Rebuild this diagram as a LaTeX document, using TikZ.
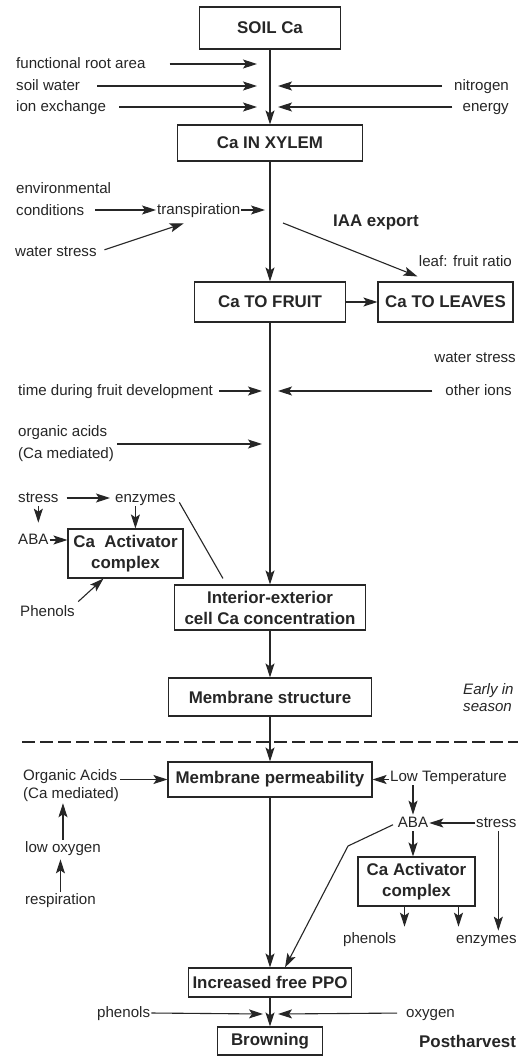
\documentclass[tikz,border=0pt]{standalone}
\usepackage{fontspec}
\setmainfont{Liberation Sans}
\usetikzlibrary{arrows.meta,positioning,calc}

\begin{document}
\begin{tikzpicture}[
    x=1pt, y=-1pt,
    >={Stealth[length=14pt,width=9pt,inset=3pt]},
    block/.style={
        rectangle,
        draw=black!85,
        line width=1.1pt,
        align=center,
        inner sep=0pt,
        text=black!85,
        font=\fontsize{16.9}{21}\selectfont\bfseries
    },
    txt/.style={
        inner sep=1pt,
        text height=11.3pt,
        text depth=3pt,
        text=black!85,
        font=\fontsize{15.1}{18}\selectfont
    },
    txtml/.style={
        inner sep=1pt,
        align=left,
        text=black!85,
        font=\fontsize{15.1}{22}\selectfont
    },
    head/.style={
        txt,
        font=\fontsize{16.9}{21}\selectfont\bfseries
    },
    line/.style={draw=black!85, ->, line width=1.1pt},
    plain/.style={draw=black!85, line width=1.1pt},
    cutline/.style={draw=black!85, line width=1.3pt, dash pattern=on 13pt off 5pt}
]
\path[fill=white, use as bounding box] (0,0) rectangle (518,1057);

% Main blocks
\node[block, minimum width=141pt, minimum height=42pt] (soil) at (270,28) {SOIL Ca};
\node[block, minimum width=185pt, minimum height=36pt] (xylem) at (270,143) {Ca IN XYLEM};
\node[block, minimum width=151pt, minimum height=40pt] (fruit) at (270,302) {Ca TO FRUIT};
\node[block, minimum width=135pt, minimum height=40pt] (leaves) at (445.5,302) {Ca TO LEAVES};
\node[block, minimum width=191pt, minimum height=45pt] (conc) at (270,607.5) {Interior-exterior\\cell Ca concentration};
\node[block, minimum width=203pt, minimum height=38pt] (mstruct) at (270,697) {Membrane structure};
\node[block, minimum width=204pt, minimum height=35pt] (mperm) at (270,779.5) {Membrane permeability};
\node[block, minimum width=163pt, minimum height=29pt] (ppo) at (270,982.5) {Increased free PPO};
\node[block, minimum width=105pt, minimum height=28pt] (brown) at (270,1041) {Browning};
\node[block, minimum width=115pt, minimum height=49pt] (actl) at (125.5,553.5) {Ca\ \ Activator\\complex};
\node[block, minimum width=117pt, minimum height=49pt] (actr) at (416.5,881.5) {Ca Activator\\complex};

% Main flow arrows
\draw[line] (soil) -- (xylem);
\draw[line] (xylem) -- (fruit);
\draw[line] (fruit) -- (conc);
\draw[line] (conc) -- (mstruct);
\draw[line] (mstruct) -- (mperm);
\draw[line] (mperm) -- (ppo);
\draw[line] (ppo) -- (brown);
\draw[line] (fruit.east) -- (leaves.west);

% Uptake factors
\node[txt, anchor=west] (fra) at (15,64) {functional root area};
\node[txt, anchor=west] (sw) at (15,86) {soil water};
\node[txt, anchor=west] (ie) at (15,107) {ion exchange};
\node[txt, anchor=east] (nit) at (510,86) {nitrogen};
\node[txt, anchor=east] (ene) at (510,107) {energy};
\coordinate (fra-in) at (257,64);
\coordinate (sw-in) at (257,86);
\coordinate (ie-in) at (257,107);
\coordinate (nit-in) at (278,86);
\coordinate (ene-in) at (278,107);
\draw[line, shorten <=23pt] (fra.east) -- (fra-in);
\draw[line, shorten <=16pt] (sw.east) -- (sw-in);
\draw[line, shorten <=12pt] (ie.east) -- (ie-in);
\draw[line, shorten <=11pt] (nit.west) -- (nit-in);
\draw[line, shorten <=9pt] (ene.west) -- (ene-in);

% Xylem transport
\node[txtml, anchor=west] (env) at (15,199) {environmental\\conditions};
\node[txt, anchor=west] (tr) at (156,210) {transpiration};
\node[txt, anchor=west] (ws1) at (14,252) {water stress};
\node[head, anchor=west] (iaa) at (332,222) {IAA export};
\node[txt, anchor=east] (lfr) at (513,262) {leaf: fruit ratio};
\coordinate (tr-in) at (265,210);
\coordinate (iaa-out) at (283,223);
\draw[line] ($(env.east |- tr.west)+(-17,0)$) -- (tr.west);
\draw[line] (tr.east) -- (tr-in);
\draw[line, shorten <=7pt] (ws1.east) -- ($(tr.south)+(-15,5)$);
\draw[line] (iaa-out) -- ($(leaves.north)+(-28,-5)$);

% Fruit factors
\node[txt, anchor=east] (ws2) at (517,358) {water stress};
\node[txt, anchor=west] (tfd) at (17,391) {time during fruit development};
\node[txt, anchor=east] (oi) at (513,391) {other ions};
\node[txtml, anchor=west] (oa1) at (17,444) {organic acids\\(Ca mediated)};
\coordinate (tfd-in) at (262,391);
\coordinate (oi-in) at (278,391);
\coordinate (oa1-in) at (262,444);
\draw[line, shorten <=5pt] (tfd.east) -- (tfd-in);
\draw[line, shorten <=12pt] (oi.west) -- (oi-in);
\draw[line, shorten <=2pt] (oa1.east) -- (oa1-in);

% Early activator complex
\node[txt, anchor=west] (st1) at (17,498) {stress};
\node[txt, anchor=west] (en1) at (114,498) {enzymes};
\node[txt, anchor=west] (aba1) at (17,540) {ABA};
\node[txt, anchor=west] (ph1) at (19,612) {Phenols};
\coordinate (en1d) at ($(en1.south)+(-10,0)$);
\draw[line, shorten <=7pt, shorten >=4pt] (st1.east) -- (en1.west);
\draw[line, shorten >=9pt] (st1.south) -- (st1.south |- aba1.north);
\draw[line] (en1d) -- (en1d |- actl.north);
\draw[line] (aba1.east) -- (aba1.east -| actl.west);
\draw[line, shorten <=3pt] (ph1.north east) -- ($(actl.south)+(-22,0)$);
\draw[plain, shorten <=5pt] (en1.east) -- ($(conc.north west)+(49,-6)$);

\node[txtml, anchor=west, font=\fontsize{15.1}{17}\selectfont\itshape] (early) at (462,698) {Early in\\season};

% Season divide
\coordinate (cut-l) at (22,742);
\coordinate (cut-r) at (518,742);
\draw[cutline] (cut-l) -- (cut-r);

% Postharvest factors
\node[txtml, anchor=west, font=\fontsize{15.1}{18}\selectfont] (oa2) at (22,786) {Organic Acids\\(Ca mediated)};
\node[txt, anchor=west] (lo) at (24,848) {low oxygen};
\node[txt, anchor=west] (rs) at (24,900) {respiration};
\node[txt, anchor=west] (lt) at (389,777) {Low Temperature};
\node[txt] (aba2) at (413,823) {ABA};
\node[txt, anchor=west] (st2) at (475,823) {stress};
\node[txt, anchor=west] (ph2) at (342,939) {phenols};
\node[txt, anchor=west] (en2) at (455,939) {enzymes};
\coordinate (a1) at ($(actr.south)+(-12,0)$);
\coordinate (a2) at ($(actr.south)+(42,0)$);
\coordinate (bend) at (348,846);
\draw[line] (oa2.east |- mperm.west) -- (mperm.west);
\draw[line] (lo.north) -- (lo.north |- oa2.south);
\draw[line, shorten >=3pt] (rs.north) -- (rs.north |- lo.south);
\draw[line] (lt.west |- mperm.east) -- (mperm.east);
\draw[line] (aba2.north |- lt.south) -- (aba2.north);
\draw[line] (st2.west) -- (aba2.east);
\draw[line] (aba2.south) -- (aba2.south |- actr.north);
\draw[line] ($(st2.south)+(2,0)$) -- ($(st2.south |- en2.north)+(2,0)$);
\draw[line, shorten >=4pt] (a1) -- (a1 |- ph2.north);
\draw[line, shorten >=4pt] (a2) -- (a2 |- en2.north);
\draw[line, shorten <=4pt] (aba2.west) -- (bend) -- ($(ppo.north)+(15,0)$);

% Browning
\node[txt, anchor=west] (ph3) at (96,1013) {phenols};
\node[txt, anchor=west] (ox) at (405,1013) {oxygen};
\node[head, anchor=west] (post) at (418,1043) {Postharvest};
\coordinate (ph3-in) at (263,1014);
\coordinate (ox-in) at (278,1014);
\draw[line] (ph3.east) -- (ph3-in);
\draw[line, shorten <=8pt] (ox.west) -- (ox-in);

\end{tikzpicture}
\end{document}
